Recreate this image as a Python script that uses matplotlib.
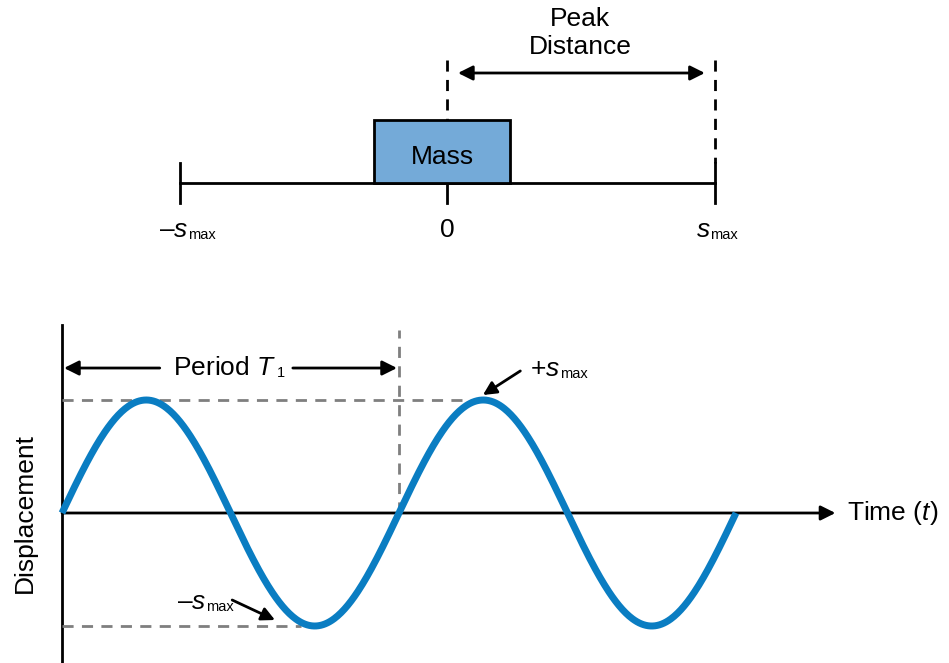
import numpy as np
import matplotlib.pyplot as plt
from matplotlib.patches import Rectangle

plt.rcParams['font.family'] = ['Liberation Sans', 'DejaVu Sans']
plt.rcParams['mathtext.fontset'] = 'custom'
plt.rcParams['mathtext.rm'] = 'Liberation Sans'
plt.rcParams['mathtext.it'] = 'Liberation Sans:italic'

# data
positions = [-1.0, 0.0, 1.0]
position_labels = [('–$s$', 'max'), ('0', ''), ('$s$', 'max')]
mass_left, mass_right = -0.273, 0.236
period = 1.0
amplitude = 1.0
n_periods = 2.0
t = np.linspace(0, n_periods * period, 600)
disp = amplitude * np.sin(2 * np.pi * t / period)

blue = '#0a7dc2'
grey = '#7f7f7f'
FS = 19


def sub_label(ax, x, y, main, sub, ha='left'):
    # main text followed by a small subscript
    txt = ax.text(x, y, main, ha=ha, va='center', fontsize=FS)
    if sub:
        ax.annotate(sub, xy=(1, 0), xycoords=txt, xytext=(0, 0),
                    textcoords='offset points', ha='left', va='bottom',
                    fontsize=10.5)
    return txt


fig = plt.figure(figsize=(9.49, 6.63), dpi=100)

# ---- top: mass on a line ----
ax1 = fig.add_axes([0, (663 - 260) / 663, 1, 260 / 663])
ax1.set_xlim(-447 / 267.5, (949 - 447) / 267.5)
ax1.set_ylim(260, 0)
ax1.axis('off')

ax1.plot([positions[0], positions[2]], [183, 183], color='black', lw=2)
for p in positions:
    top = 183 if p == 0 else 163
    ax1.plot([p, p], [top, 203], color='black', lw=2)
ax1.plot([0, 0], [60, 120], color='black', lw=2, dashes=(4, 3))
ax1.plot([1, 1], [60, 163], color='black', lw=2, dashes=(4, 3))
ax1.add_patch(Rectangle((mass_left, 120), mass_right - mass_left, 63,
                        facecolor='#74aad8', edgecolor='black', lw=2, zorder=3))
ax1.text((mass_left + mass_right) / 2, 157, 'Mass', ha='center', va='center',
         fontsize=FS, zorder=4)
ax1.annotate('', xy=(0.041, 73), xytext=(0.964, 73),
             arrowprops=dict(arrowstyle='<|-|>', color='black', lw=2,
                             mutation_scale=22, shrinkA=0, shrinkB=0))
ax1.text(0.497, 33, 'Peak\nDistance', ha='center', va='center', fontsize=FS,
         linespacing=1.2)
label_left = [-1.078, -0.027, 0.93]
for xl, (main, sub) in zip(label_left, position_labels):
    sub_label(ax1, xl, 230, main, sub)

# ---- bottom: displacement vs time ----
ax2 = fig.add_axes([0, 0, 1, (663 - 300) / 663])
ax2.set_xlim(-62 / 337, (949 - 62) / 337)
ax2.set_ylim((513 - 663) / 113, (513 - 300) / 113)
ax2.axis('off')

ax2.plot([0, 0], [-1.32, 1.66], color='black', lw=2)
ax2.annotate('', xy=(2.295, 0), xytext=(0, 0),
             arrowprops=dict(arrowstyle='-|>', color='black', lw=2,
                             mutation_scale=22, shrinkA=0, shrinkB=0))
ax2.text(2.33, 0, 'Time ($t$)', ha='left', va='center', fontsize=FS)
ax2.text(-0.11, 0, 'Displacement', rotation=90, ha='center', va='center', fontsize=FS)

ax2.plot([0, 1.24], [amplitude, amplitude], color=grey, lw=2, dashes=(4, 3))
ax2.plot([0, 0.71], [-amplitude, -amplitude], color=grey, lw=2, dashes=(4, 3))
ax2.plot([period, period], [0, 1.62], color=grey, lw=2, dashes=(4, 3))

ax2.plot(t, disp, color=blue, lw=5, zorder=3, solid_capstyle='butt')

ax2.annotate('', xy=(0.006, 1.283), xytext=(0.29, 1.283),
             arrowprops=dict(arrowstyle='-|>', color='black', lw=2,
                             mutation_scale=22, shrinkA=0, shrinkB=0))
ax2.annotate('', xy=(0.994, 1.283), xytext=(0.685, 1.283),
             arrowprops=dict(arrowstyle='-|>', color='black', lw=2,
                             mutation_scale=22, shrinkA=0, shrinkB=0))
sub_label(ax2, 0.33, 1.283, 'Period $T$', '1')

ax2.annotate('', xy=(1.249, 1.044), xytext=(1.36, 1.257),
             arrowprops=dict(arrowstyle='-|>', color='black', lw=2,
                             mutation_scale=20, shrinkA=0, shrinkB=0))
sub_label(ax2, 1.389, 1.27, '+$s$', 'max')
ax2.annotate('', xy=(0.632, -0.947), xytext=(0.505, -0.77),
             arrowprops=dict(arrowstyle='-|>', color='black', lw=2,
                             mutation_scale=20, shrinkA=0, shrinkB=0))
sub_label(ax2, 0.34, -0.79, '–$s$', 'max')

fig.savefig('out.png', dpi=100)
